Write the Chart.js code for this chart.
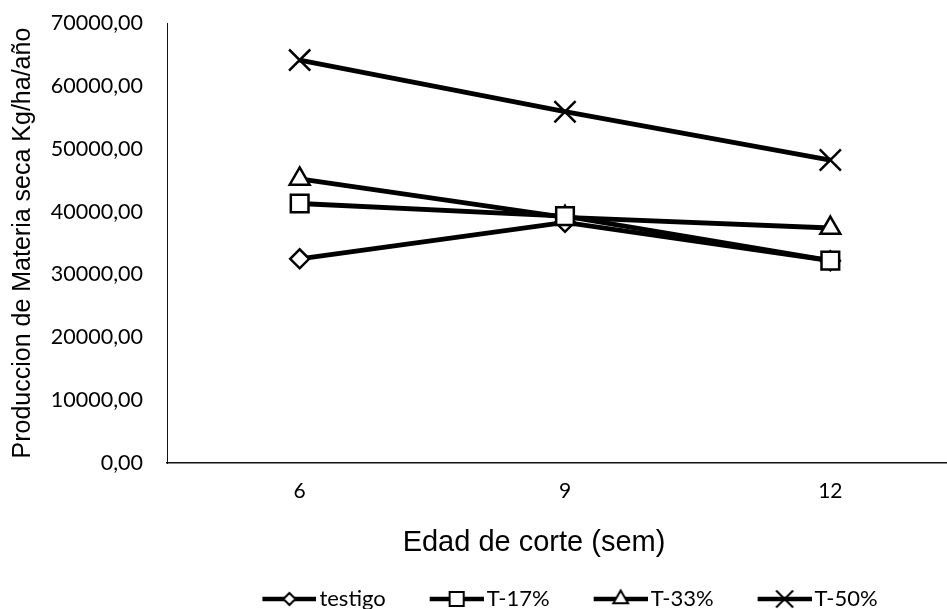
<!DOCTYPE html>
<html lang="es">
<head>
<meta charset="utf-8">
<title>Producción de materia seca por edad de corte</title>
<script src="https://cdn.jsdelivr.net/npm/chart.js@4.4.1/dist/chart.umd.min.js"></script>
<style>
  html, body { margin: 0; padding: 0; background: #fff; overflow: hidden; }
  body { width: 947px; height: 609px; position: relative; }
  #wrap { position: absolute; left: 0; top: 0; }
</style>
</head>
<body>
<div id="wrap"><canvas id="grafico" width="983" height="620"></canvas></div>
<script>
// Edad de corte (semanas)
const cortes = ['6', '9', '12'];

// Producción de materia seca (kg/ha/año) por tratamiento
const testigo = [32500, 38300, 32200];
const t17 = [41300, 39300, 32200];
const t33 = [45200, 39100, 37400];
const t50 = [64100, 55900, 48200];

const nombres = ['testigo', 'T-17%', 'T-33%', 'T-50%'];
const yTicks = [0, 10000, 20000, 30000, 40000, 50000, 60000, 70000];

const INK = '#000';

// marker shape per series: [pointStyle, radius on the plot, radius in the legend]
const marcadores = [
  ['rectRot', 9.5, 6],
  ['rect', 12.5, 10],
  ['triangle', 11.5, 8.5],
  ['crossRot', 15, 12]
];

// small legend swatch: a short thick line with the series marker in its middle
function muestraLeyenda(estilo, radio) {
  const c = document.createElement('canvas');
  c.width = 102; c.height = 26;
  const g = c.getContext('2d');
  g.strokeStyle = INK;
  g.lineWidth = 4.5;
  g.beginPath(); g.moveTo(48, 13); g.lineTo(102, 13); g.stroke();
  g.fillStyle = '#fff';
  g.lineWidth = 2;
  Chart.helpers.drawPoint(g, { pointStyle: estilo, radius: radio, rotation: 0, borderWidth: 2 }, 75, 13);
  return c;
}
const muestras = marcadores.map(m => muestraLeyenda(m[0], m[2]));

function serie(i, datos, orden) {
  const [estilo, radio] = marcadores[i];
  return {
    label: nombres[i],
    data: datos,
    order: orden,
    borderColor: INK,
    borderWidth: 4.8,
    pointStyle: estilo,
    pointRadius: radio,
    pointBorderWidth: 2.5,
    pointBorderColor: INK,
    pointBackgroundColor: '#fff',
    tension: 0,
    clip: false
  };
}

// re-centres the x-axis title and the legend horizontally once the layout is done
const centrado = {
  id: 'centrado',
  afterLayout(chart) {
    const mover = (box, cx) => {
      const w = box.right - box.left;
      box.left = cx - w / 2;
      box.right = cx + w / 2;
    };
    mover(chart.titleBlock, 534);
    mover(chart.legend, 550);
  }
};

const formato = v => Number(v).toFixed(2).replace('.', ',');

new Chart(document.getElementById('grafico'), {
  type: 'line',
  data: {
    labels: cortes,
    datasets: [
      serie(0, testigo, 1),
      serie(1, t17, 0),
      serie(2, t33, 2),
      serie(3, t50, 3)
    ]
  },
  plugins: [centrado],
  options: {
    responsive: false,
    animation: false,
    events: [],
    devicePixelRatio: 1,
    layout: { padding: { top: 23, right: 20, bottom: 0, left: 0 } },
    scales: {
      x: {
        type: 'category',
        offset: true,
        grid: { display: false, drawTicks: false, tickLength: 0 },
        border: { display: true, color: '#111', width: 1.5 },
        ticks: { color: INK, padding: 15, font: { family: 'Lato', size: 21 } },
        afterFit: s => { s.height = 45; s.paddingLeft = 0; s.paddingRight = 0; }
      },
      y: {
        min: 0,
        max: 70000,
        afterBuildTicks: s => { s.ticks = yTicks.map(v => ({ value: v })); },
        grid: { display: false, drawTicks: false, tickLength: 0 },
        border: { display: true, color: '#111', width: 1 },
        ticks: { color: INK, padding: 24, font: { family: 'Lato', size: 21.5 }, callback: formato },
        title: {
          display: true,
          text: 'Produccion de Materia seca Kg/ha/año',
          color: INK,
          font: { family: 'Liberation Sans', size: 25 },
          padding: { top: 8, bottom: 0 }
        },
        afterFit: s => { s.width = 167; s.paddingTop = 0; s.paddingBottom = 0; }
      }
    },
    plugins: {
      tooltip: { enabled: false },
      title: {
        display: true,
        position: 'bottom',
        fullSize: false,
        weight: 500,
        text: 'Edad de corte (sem)',
        color: INK,
        font: { family: 'Liberation Sans', size: 29, weight: 'normal' },
        padding: { top: 17, bottom: 24 }
      },
      legend: {
        display: true,
        position: 'bottom',
        fullSize: false,
        labels: {
          color: INK,
          font: { family: 'Lato', size: 22 },
          usePointStyle: true,
          pointStyleWidth: 86,
          padding: 4,
          generateLabels: chart => chart.data.datasets.map((ds, i) => ({
            text: ds.label,
            pointStyle: muestras[i],
            fillStyle: '#fff',
            strokeStyle: INK,
            lineWidth: 0,
            fontColor: INK,
            hidden: false,
            datasetIndex: i
          }))
        }
      }
    }
  }
});
</script>
</body>
</html>
